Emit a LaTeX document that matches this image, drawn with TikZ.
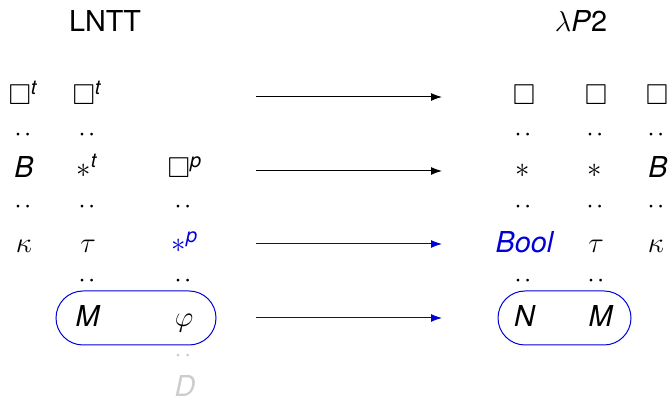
\documentclass[tikz,border=0pt]{standalone}
\usepackage{amsmath,amssymb}
\usepackage{fontspec}
\setmainfont{TeX Gyre Heros}
\usetikzlibrary{arrows.meta,shapes.misc}
\definecolor{myblue}{RGB}{0,0,215}
\definecolor{lightg}{RGB}{205,205,205}
\newcommand{\supit}[1]{^{\text{\itshape #1}}}
\begin{document}
\begin{tikzpicture}[x=0.5pt,y=-0.5pt,
  every node/.style={font=\fontsize{14.4}{17}\selectfont, inner sep=0pt, anchor=base},
  dd/.style={rotate=90, anchor=center},
  blk/.style={line width=0.5pt, -{Latex[length=5.5pt,width=4pt]}},
  blu/.style={blk, draw=myblue, -{Latex[length=5.5pt,width=4pt,fill=myblue]}},
  pill/.style={draw=myblue, line width=0.5pt, rounded rectangle, anchor=center,
    minimum height=27pt}]
\useasboundingbox (0,0) rectangle (668,399);
% headers
\node (hl) at (105,32) {LNTT};
\node (hr) at (581,32) {$\lambda$\textit{P}2};
% left column 1
\node (l11) at (23,105) {$\Box\supit{t}$};
\node[dd] (l12) at (23,135) {$:$};
\node (l13) at (24,178) {\textit{B}};
\node[dd] (l14) at (23,207) {$:$};
\node (l15) at (24,253) {$\kappa$};
% left column 2
\node (l21) at (87,105) {$\Box\supit{t}$};
\node[dd] (l22) at (87,135) {$:$};
\node (l23) at (87,178) {$\ast\supit{t}$};
\node[dd] (l24) at (87,207) {$:$};
\node (l25) at (88,253) {$\tau$};
\node[dd] (l26) at (87,281) {$:$};
\node (l27) at (88,327) {\textit{M}};
% left column 3
\node (l33) at (185,178) {$\Box\supit{p}$};
\node[dd] (l34) at (183,207) {$:$};
\node[text=myblue] (l35) at (185,253) {$\ast\supit{p}$};
\node[dd] (l36) at (183,281) {$:$};
\node (l37) at (184,327) {$\varphi$};
\node[dd, text=lightg] (l38) at (183,356) {$:$};
\node[text=lightg] (l39) at (185,397) {\textit{D}};
% right column A
\node (ra1) at (524,105) {$\Box$};
\node[dd] (ra2) at (523,135) {$:$};
\node (ra3) at (523,178) {$\ast$};
\node[dd] (ra4) at (523,207) {$:$};
\node[text=myblue] (ra5) at (525,253) {\textit{Bool}};
\node[dd] (ra6) at (523,281) {$:$};
\node (ra7) at (525,327) {\textit{N}};
% right column B
\node (rb1) at (596,105) {$\Box$};
\node[dd] (rb2) at (595,135) {$:$};
\node (rb3) at (595,178) {$\ast$};
\node[dd] (rb4) at (595,207) {$:$};
\node (rb5) at (596,253) {$\tau$};
\node[dd] (rb6) at (596,281) {$:$};
\node (rb7) at (601,327) {\textit{M}};
% right column C
\node (rc1) at (657,105) {$\Box$};
\node[dd] (rc2) at (656,135) {$:$};
\node (rc3) at (658,178) {\textit{B}};
\node[dd] (rc4) at (656,207) {$:$};
\node (rc5) at (656,253) {$\kappa$};
% pills
\node[pill, minimum width=80pt] (pl) at (136,318) {};
\node[pill, minimum width=66.5pt] (pr) at (564.5,318) {};
% arrows
\coordinate (s1) at (256,97);  \coordinate (e1) at (442,97);
\coordinate (s2) at (256,171); \coordinate (e2) at (442,171);
\coordinate (s3) at (256,244); \coordinate (e3) at (442,244);
\coordinate (s4) at (256,318); \coordinate (e4) at (442,318);
\draw[blk] (s1) -- (e1);
\draw[blk] (s2) -- (e2);
\draw[blu] (s3) -- (e3);
\draw[blu] (s4) -- (e4);
\end{tikzpicture}
\end{document}
